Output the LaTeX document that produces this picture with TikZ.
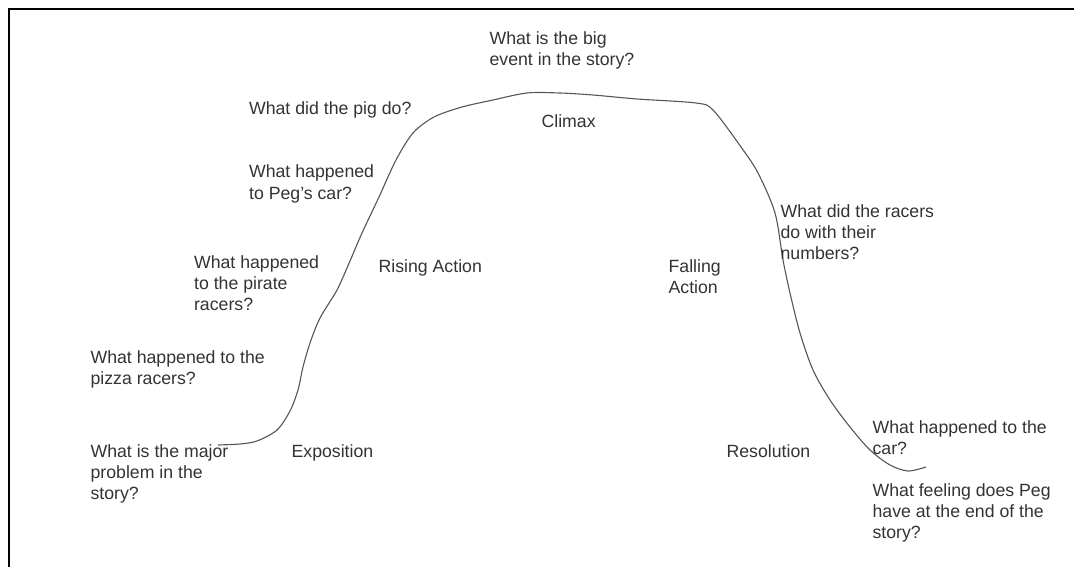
\documentclass[tikz,border=0pt]{standalone}
\usepackage{fontspec}
\setmainfont{Liberation Sans}
\definecolor{ctext}{HTML}{333333}
\definecolor{ccurve}{HTML}{555555}
\tikzset{
  every picture/.style={line width=1.2pt},
  question/.style={anchor=base west, inner sep=0pt, align=left, text=ctext, font=\fontsize{17.7}{21}\selectfont},
  stage/.style={question},
  frame/.style={draw=black, line width=2pt},
  plotline/.style={draw=ccurve, line width=1.1pt},
}

\begin{document}
\begin{tikzpicture}[x=1pt, y=-1pt]
  \useasboundingbox (0,0) rectangle (1074,567);
  \draw[frame] (9,567) -- (9,9) -- (1074,9);
  % the story arc, drawn by hand in the original
  \draw[plotline] plot[smooth] coordinates {(218,445) (240,444) (257,441) (277,430) (290,411) (298,390) (303,367) (310,343) (320,318) (337,290) (350,261) (362,233) (379,197) (396,160) (413,133) (434,117) (462,107) (493,100) (527,93) (560,93) (593,95) (637,99) (696,103) (713,110) (741,147) (758,173) (775,213) (783,260) (790,293) (800,333) (813,370) (830,400) (850,427) (870,450) (890,465) (908,471) (926,467)};
  % nodes sit on the baseline of their last line
  \node[question] (qproblem) at (90,499) {What is the major\\problem in the\\story?};
  \node[question] (qpizza) at (90,384) {What happened to the\\pizza racers?};
  \node[question] (qpirate) at (193.5,310) {What happened\\to the pirate\\racers?};
  \node[question] (qpegcar) at (248.5,199) {What happened\\to Peg's car?};
  \node[question] (qpig) at (248.5,115) {What did the pig do?};
  \node[question] (qevent) at (489,66) {What is the big\\event in the story?};
  \node[question] (qnumbers) at (780,259) {What did the racers\\do with their\\numbers?};
  \node[question] (qcar) at (872,454) {What happened to the\\car?};
  \node[question] (qfeeling) at (872,538) {What feeling does Peg\\have at the end of the\\story?};
  \node[stage] (exposition) at (291,457) {Exposition};
  \node[stage] (rising) at (378,272) {Rising Action};
  \node[stage] (climax) at (541,128) {Climax};
  \node[stage] (falling) at (668,293) {Falling\\Action};
  \node[stage] (resolution) at (726,457) {Resolution};
\end{tikzpicture}
\end{document}
